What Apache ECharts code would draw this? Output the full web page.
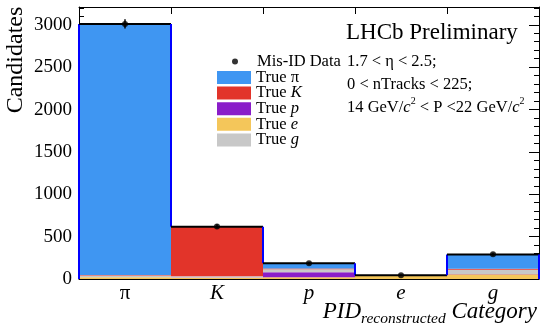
<!DOCTYPE html>
<html><head><meta charset="utf-8">
<script src="https://cdn.jsdelivr.net/npm/echarts@6/dist/echarts.min.js"></script>
<style>html,body{margin:0;padding:0;background:#fff}#c{width:541px;height:327px}</style>
</head><body><div id="c"></div>
<script>
const categories = ['π', 'K', 'p', 'e', 'g'];
const truePi = [2963, 5, 60, 5, 170];
const trueK  = [5, 580, 10, 0, 10];
const trueP  = [2, 3, 60, 0, 5];
const trueE  = [20, 15, 20, 35, 55];
const trueG  = [20, 15, 35, 5, 50];
const misIDData = [3010, 620, 185, 45, 292];
const misIDErr  = [55, 25, 14, 7, 17];

const FONT = '"Liberation Serif", serif';
const totals = categories.map((_, i) => truePi[i] + trueK[i] + trueP[i] + trueE[i] + trueG[i]);

const chart = echarts.init(document.getElementById('c'), null, { renderer: 'canvas' });

function barSeries(name, data, color) {
  return { name, type: 'bar', stack: 'mc', data, barCategoryGap: '0%', barGap: '0%',
    itemStyle: { color }, silent: true, z: 2 };
}

const yAxisBase = {
  type: 'value', min: 0, max: 3210, interval: 500,
  axisLine: { show: true, onZero: false, lineStyle: { color: '#000', width: 1 } },
  axisTick: { show: true, inside: true, length: 10, lineStyle: { color: '#000' } },
  minorTick: { show: true, splitNumber: 5, length: 5, lineStyle: { color: '#000' } },
  splitLine: { show: false }
};

chart.setOption({
  animation: false,
  backgroundColor: '#fff',
  grid: { left: 79, right: 2, top: 7, bottom: 48, containLabel: false, outerBoundsMode: 'none' },
  title: [
    { text: 'LHCb Preliminary', left: 346, top: 21, padding: 0,
      textStyle: { fontFamily: FONT, fontSize: 23, fontWeight: 'normal', color: '#000' } },
    { text: '1.7 < η < 2.5;\n0 < nTracks < 225;\n14 GeV/{i|c}{sup|2} < P <22 GeV/{i|c}{sup|2}',
      left: 347, top: 50, padding: 0,
      textStyle: { fontFamily: FONT, fontSize: 16.5, fontWeight: 'normal', color: '#000', lineHeight: 23,
        rich: {
          i: { fontFamily: FONT, fontSize: 16.5, fontStyle: 'italic', color: '#000', lineHeight: 23 },
          sup: { fontFamily: FONT, fontSize: 10, color: '#000', lineHeight: 15, verticalAlign: 'top' }
        } } }
  ],
  legend: [
    { data: ['Mis-ID Data'], left: 232, top: 53, padding: 0, icon: 'circle',
      itemWidth: 34, itemHeight: 6, selectedMode: false,
      textStyle: { fontFamily: FONT, fontSize: 16.5, color: '#000', lineHeight: 15.6 } },
    { data: ['True π', 'True K', 'True p', 'True e', 'True g'], orient: 'vertical',
      left: 217, top: 69, padding: 0, icon: 'rect', itemWidth: 34, itemHeight: 13, itemGap: -1.4,
      selectedMode: false,
      formatter: n => n.replace(/^True ([Kpeg])$/, 'True {i|$1}'),
      textStyle: { fontFamily: FONT, fontSize: 16.5, color: '#000', lineHeight: 15.6,
        rich: { i: { fontFamily: FONT, fontSize: 16.5, fontStyle: 'italic', color: '#000', lineHeight: 15.6 } } } }
  ],
  xAxis: [
    { type: 'category', data: categories, position: 'bottom',
      axisLine: { onZero: false, lineStyle: { color: '#000', width: 1 } },
      axisTick: { show: false, length: 0 },
      axisLabel: { margin: 4, fontFamily: FONT, fontSize: 21, color: '#000',
        formatter: v => v === 'π' ? '{u|π}' : '{i|' + v + '}',
        rich: { u: { fontFamily: FONT, fontSize: 21, color: '#000' },
                i: { fontFamily: FONT, fontSize: 21, fontStyle: 'italic', color: '#000' } } } },
    { type: 'category', data: categories, position: 'top',
      axisLine: { onZero: false, lineStyle: { color: '#000', width: 1 } },
      axisTick: { show: true, inside: true, length: 7, lineStyle: { color: '#000' } },
      axisLabel: { show: false } }
  ],
  yAxis: [
    Object.assign({}, yAxisBase, { position: 'left',
      axisLabel: { fontFamily: FONT, fontSize: 19, color: '#000', margin: 7, showMaxLabel: false,
        formatter: v => String(v) } }),
    Object.assign({}, yAxisBase, { position: 'right', axisLabel: { show: false } })
  ],
  graphic: [
    { type: 'text', x: 16, y: 60, rotation: Math.PI / 2,
      style: { text: 'Candidates', font: '24px "Liberation Serif"', fill: '#000', align: 'center', verticalAlign: 'middle' } },
    { type: 'text', x: 537, y: 300,
      style: { text: '{m|PID}{s|reconstructed}{m| Category}', align: 'right', verticalAlign: 'top', fill: '#000',
        font: 'italic 23px "Liberation Serif"',
        rich: {
          m: { fontFamily: FONT, fontSize: 23, fontStyle: 'italic', fill: '#000', lineHeight: 23, verticalAlign: 'top' },
          s: { fontFamily: FONT, fontSize: 15.5, fontStyle: 'italic', fill: '#000', lineHeight: 27, verticalAlign: 'bottom' }
        } } }
  ],
  series: [
    barSeries('True e', trueE, '#f4c65a'),
    barSeries('True p', trueP, '#8a1dc9'),
    barSeries('True g', trueG, '#c8c8c8'),
    barSeries('True K', trueK, '#e2342a'),
    barSeries('True π', truePi, '#3f96f2'),
    { type: 'custom', silent: true, z: 5,
      data: categories.map((c, i) => [i, totals[i], i > 0 ? totals[i - 1] : 0, i === categories.length - 1 ? 1 : 0]),
      encode: { x: 0, y: 1 },
      renderItem(params, api) {
        const i = api.value(0), t = api.value(1), prev = api.value(2), last = api.value(3);
        const c = api.coord([i, t]);
        const w = api.size([1, 0])[0];
        const x0 = c[0] - w / 2, x1 = c[0] + w / 2;
        const pp = api.coord([i, prev]);
        const ch = [
          { type: 'line', shape: { x1: x0, y1: pp[1], x2: x0, y2: c[1] }, style: { stroke: '#0000ff', lineWidth: 2 } },
          { type: 'line', shape: { x1: x0, y1: c[1], x2: x1, y2: c[1] }, style: { stroke: '#000', lineWidth: 2 } }
        ];
        if (last) {
          const b = api.coord([i, 0]);
          ch.push({ type: 'line', shape: { x1: x1, y1: b[1], x2: x1, y2: c[1] }, style: { stroke: '#0000ff', lineWidth: 2 } });
        }
        return { type: 'group', children: ch };
      } },
    { type: 'custom', silent: true, z: 10,
      data: misIDData.map((v, i) => [i, v, misIDErr[i]]),
      encode: { x: 0, y: 1 },
      renderItem(params, api) {
        const i = api.value(0), v = api.value(1), e = api.value(2);
        const a = api.coord([i, v - e]), b = api.coord([i, v + e]);
        return { type: 'line', shape: { x1: a[0], y1: a[1], x2: b[0], y2: b[1] }, style: { stroke: '#000', lineWidth: 1.5 } };
      } },
    { name: 'Mis-ID Data', type: 'scatter', data: misIDData, symbol: 'circle', symbolSize: 6,
      itemStyle: { color: '#000' }, z: 11, silent: true }
  ]
});
</script></body></html>
